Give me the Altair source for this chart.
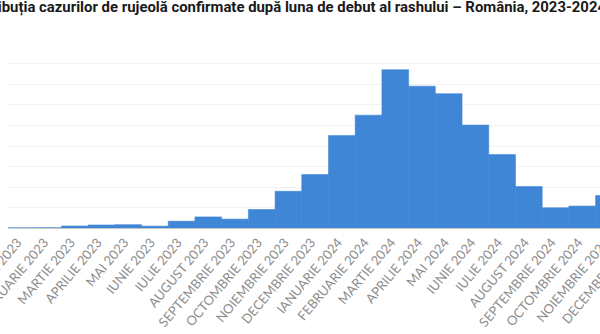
import altair as alt
import pandas as pd

months = ["IANUARIE 2023", "FEBRUARIE 2023", "MARTIE 2023", "APRILIE 2023", "MAI 2023",
          "IUNIE 2023", "IULIE 2023", "AUGUST 2023", "SEPTEMBRIE 2023", "OCTOMBRIE 2023",
          "NOIEMBRIE 2023", "DECEMBRIE 2023", "IANUARIE 2024", "FEBRUARIE 2024",
          "MARTIE 2024", "APRILIE 2024", "MAI 2024", "IUNIE 2024", "IULIE 2024",
          "AUGUST 2024", "SEPTEMBRIE 2024", "OCTOMBRIE 2024", "NOIEMBRIE 2024",
          "DECEMBRIE 2024"]
cases = [3, 5, 48, 73, 80, 45, 165, 268, 215, 448, 890, 1295, 2240, 2735,
         3837, 3438, 3256, 2494, 1780, 1005, 490, 532, 787, 650]

title_text = ("Distribuția cazurilor de rujeolă confirmate după luna de debut "
              "al rashului – România, 2023-2024")

df = pd.DataFrame({"luna": months, "cazuri": cases})

chart = alt.Chart(df).mark_bar(color="#3f86d6", stroke="#3f86d6", strokeWidth=0.6,
                               clip=True).encode(
    x=alt.X("luna:N", sort=months, title=None,
            scale=alt.Scale(paddingInner=0, paddingOuter=0, range=[0, 641]),
            axis=alt.Axis(labelAngle=-50, labelAlign="right", labelBaseline="middle",
                          labelPadding=12, labelOffset=-2, ticks=False,
                          domainColor="#c8c8c8",
                          labelColor="#8c8c8c", labelFont="Lato", labelFontSize=13,
                          labelOverlap=False)),
    y=alt.Y("cazuri:Q", title=None,
            scale=alt.Scale(domain=[0, 4000], nice=False),
            axis=alt.Axis(labels=False, ticks=False, domain=False,
                          gridColor="#f2f2f2", values=list(range(0, 4001, 500)))),
).properties(
    width=592, height=165,
    title=alt.TitleParams(text=title_text, anchor="middle", font="Roboto",
                          fontSize=14.9, fontWeight="bold", color="#1a1a1a",
                          baseline="alphabetic", offset=36, dx=-18),
    autosize=alt.AutoSizeParams(type="none"),
    padding={"left": 8, "top": 63, "right": 0, "bottom": 106},
).configure_view(stroke=None)

chart.save("out.html", embed_options={"renderer": "svg", "actions": False})
